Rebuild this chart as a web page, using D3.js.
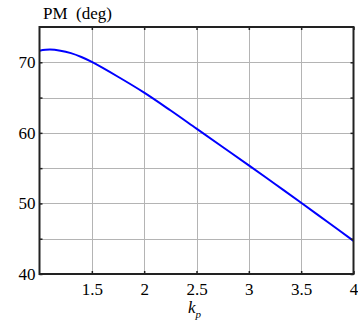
<!DOCTYPE html>
<html>
<head>
<meta charset="utf-8">
<script src="https://cdn.jsdelivr.net/npm/d3@7"></script>
<style>
  body { margin: 0; background: #fff; }
  svg text { font-family: "Liberation Serif", "Times New Roman", serif; fill: #000; }
</style>
</head>
<body>
<svg id="chart" width="358" height="325"></svg>
<script>
// phase margin vs proportional gain
var kp = [1.0, 1.1, 1.2, 1.3, 1.4, 1.5, 1.75, 2.0, 2.25, 2.5, 2.75, 3.0, 3.25, 3.5, 3.75, 4.0];
var pm = [71.65, 71.8, 71.65, 71.3, 70.75, 70.05, 67.95, 65.7, 63.2, 60.6, 58.0, 55.4, 52.75, 50.1, 47.4, 44.7];
var xTicks = [1.5, 2, 2.5, 3, 3.5, 4];
var yTicks = [40, 45, 50, 55, 60, 65, 70];
var yLabels = [40, 50, 60, 70];

var svg = d3.select('#chart'),
    pLeft = 39.5, pRight = 353.5, pTop = 27, pBottom = 274;

var x = d3.scaleLinear().domain([1, 4]).range([pLeft, pRight]),
    y = d3.scaleLinear().domain([40, 75]).range([pBottom, pTop]);

// grid
svg.append('g').selectAll('line').data(xTicks.slice(0, -1)).enter().append('line')
    .attr('x1', function (d) { return Math.round(x(d)) + 0.5; })
    .attr('x2', function (d) { return Math.round(x(d)) + 0.5; })
    .attr('y1', pTop).attr('y2', pBottom)
    .attr('stroke', '#b4b4b4').attr('stroke-width', 1);
svg.append('g').selectAll('line').data(yTicks.slice(1)).enter().append('line')
    .attr('y1', function (d) { return Math.round(y(d)) + 0.5; })
    .attr('y2', function (d) { return Math.round(y(d)) + 0.5; })
    .attr('x1', pLeft).attr('x2', pRight)
    .attr('stroke', '#b4b4b4').attr('stroke-width', 1);

// curve
var line = d3.line()
    .x(function (d, i) { return x(kp[i]); })
    .y(function (d) { return y(d); })
    .curve(d3.curveCatmullRom);
svg.append('path').datum(pm)
    .attr('d', line)
    .attr('fill', 'none')
    .attr('stroke', '#0000ff')
    .attr('stroke-width', 2);

// axes (ticks inward on all four sides)
var tickLen = -3;
svg.append('g').attr('transform', 'translate(0,' + pBottom + ')')
    .call(d3.axisBottom(x).tickValues(xTicks).tickSizeInner(tickLen).tickSizeOuter(0).tickPadding(9)
        .tickFormat(d3.format('')));
svg.append('g').attr('transform', 'translate(0,' + pTop + ')')
    .call(d3.axisTop(x).tickValues(xTicks).tickSizeInner(tickLen).tickSizeOuter(0).tickFormat(''));
svg.append('g').attr('transform', 'translate(' + pLeft + ',0)')
    .call(d3.axisLeft(y).tickValues(yTicks).tickSizeInner(tickLen).tickSizeOuter(0).tickPadding(4)
        .tickFormat(function (d) { return yLabels.indexOf(d) >= 0 ? d : ''; }));
svg.append('g').attr('transform', 'translate(' + pRight + ',0)')
    .call(d3.axisRight(y).tickValues(yTicks).tickSizeInner(tickLen).tickSizeOuter(0).tickFormat(''));

svg.selectAll('.domain').remove();
svg.selectAll('.tick line').attr('stroke', '#222').attr('stroke-width', 1.5);
svg.selectAll('.tick text')
    .style('font-family', '"Liberation Serif", serif')
    .style('font-size', '17px')
    .attr('fill', '#000');

// frame
svg.append('rect')
    .attr('x', pLeft).attr('y', pTop)
    .attr('width', pRight - pLeft).attr('height', pBottom - pTop)
    .attr('fill', 'none').attr('stroke', '#222').attr('stroke-width', 2);

// labels
svg.append('text')
    .attr('x', 43).attr('y', 19)
    .style('font-size', '17px')
    .style('white-space', 'pre')
    .text('PM  (deg)');

var xl = svg.append('text')
    .attr('x', 188).attr('y', 313)
    .style('font-size', '17px')
    .style('font-style', 'italic');
xl.append('tspan').text('k');
xl.append('tspan').attr('dy', 5).style('font-size', '11px').text('p');
</script>
</body>
</html>
